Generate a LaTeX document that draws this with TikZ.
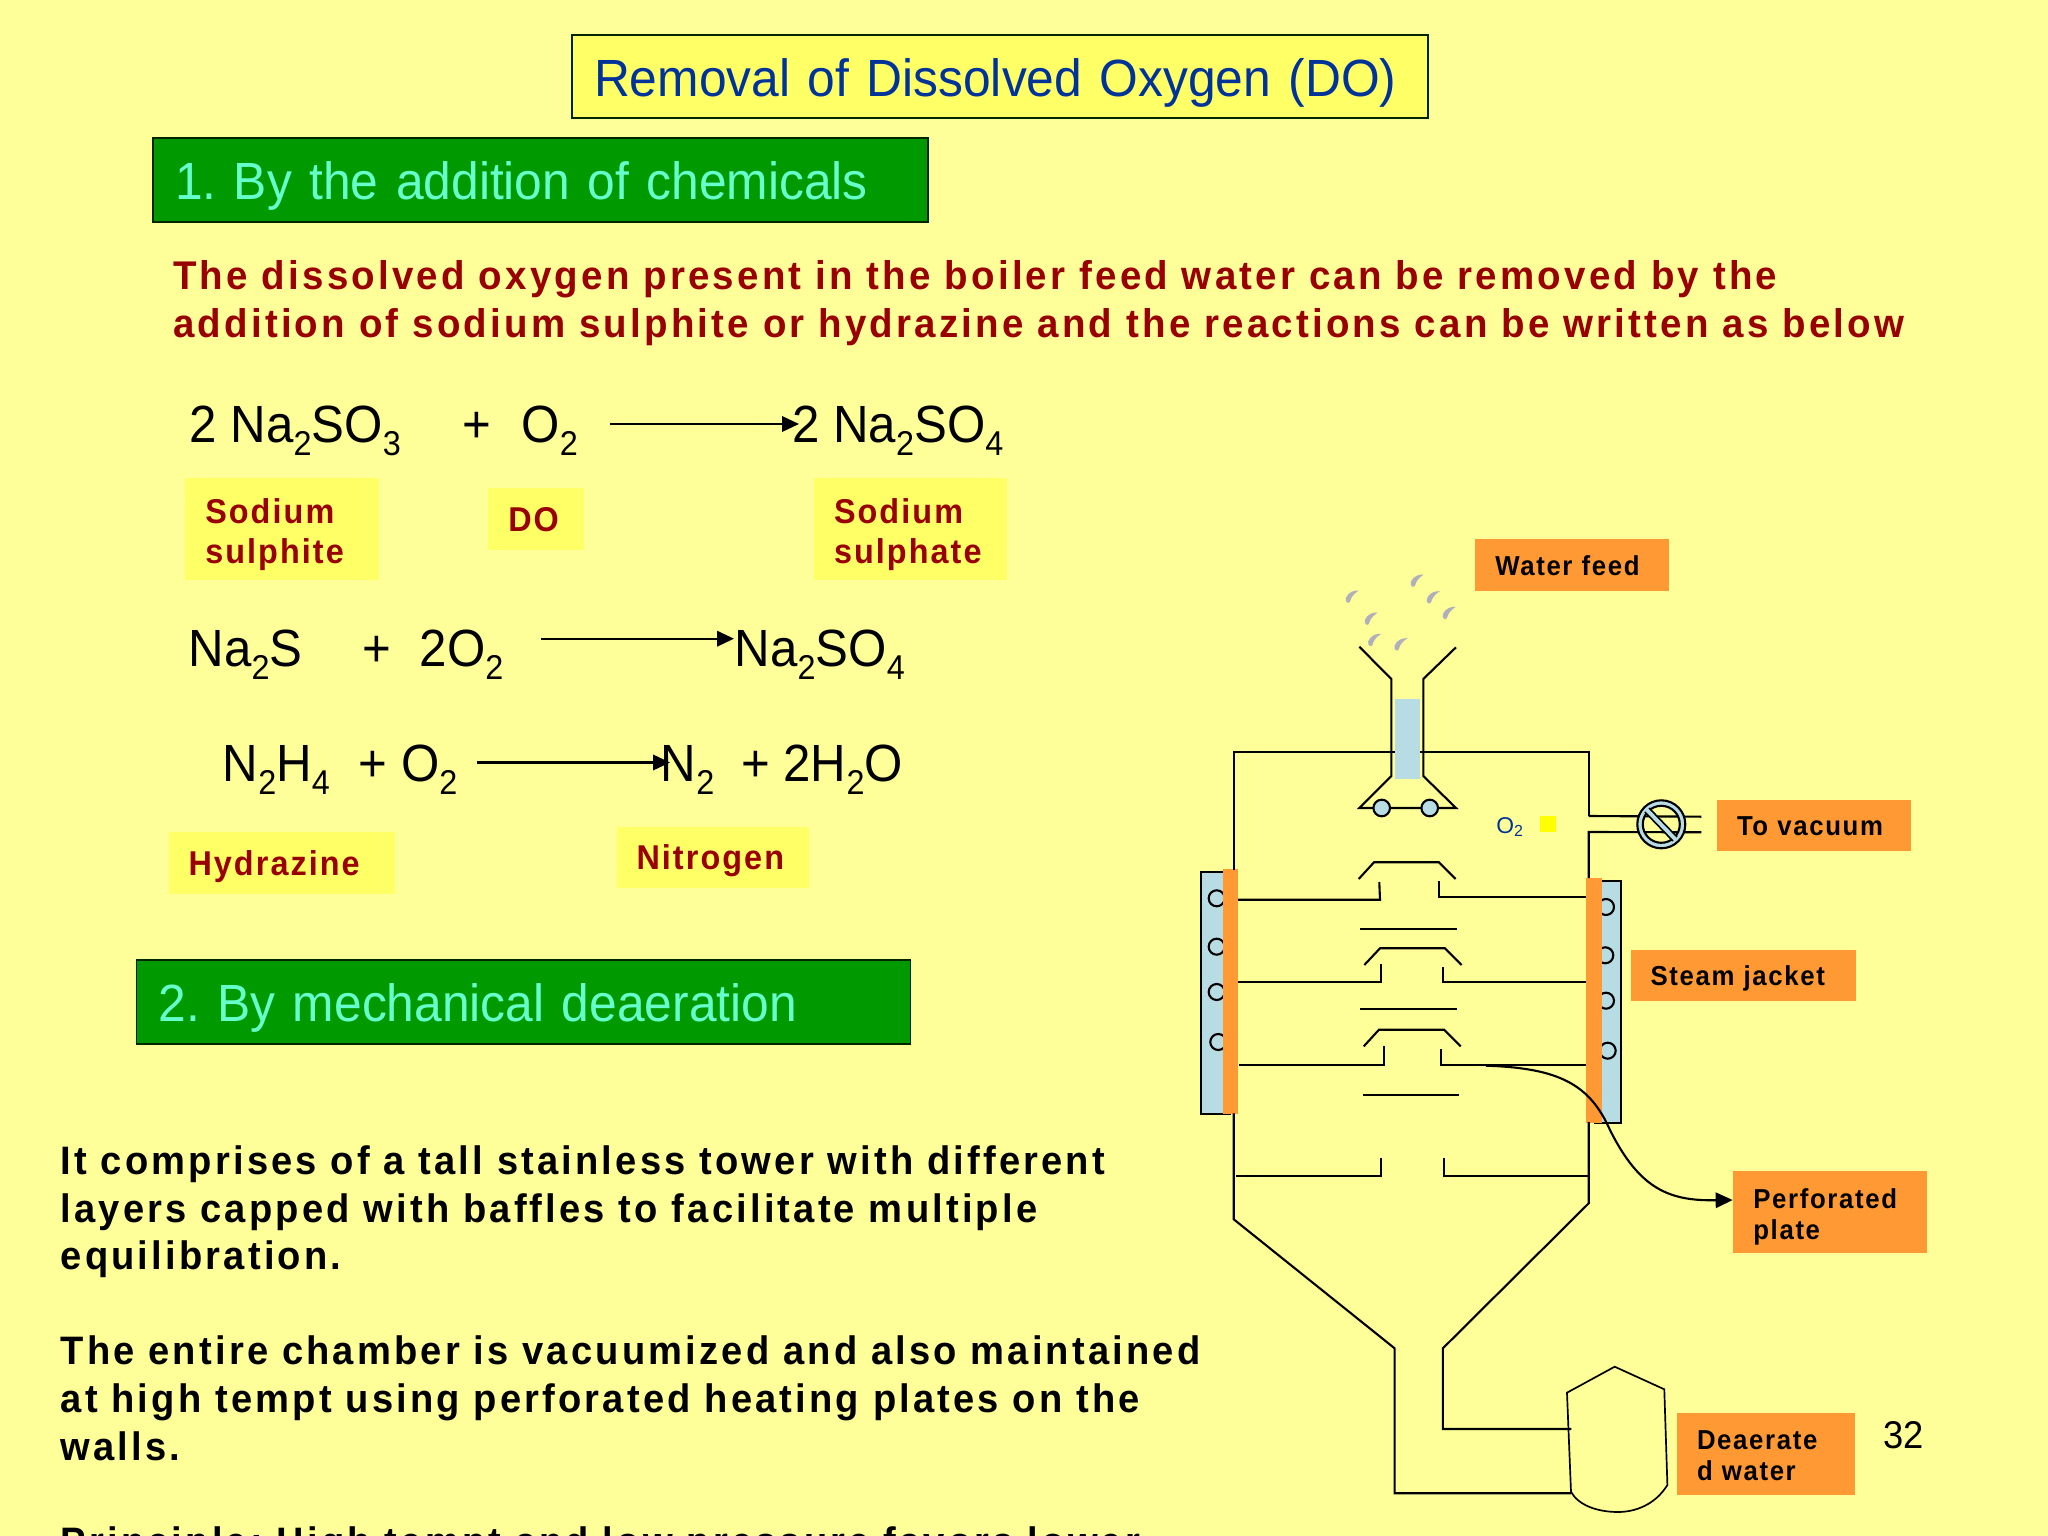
\documentclass[tikz,border=0pt]{standalone}
\usepackage{fontspec}
\setmainfont{Liberation Sans}
\newfontfamily\narrowfont[FakeStretch=.94]{Liberation Sans}
\newfontfamily\titlefont[FakeStretch=.95,WordSpace=.85]{Liberation Sans}
\newfontfamily\tagfont[FakeStretch=.94,LetterSpace=6]{Liberation Sans}
\newfontfamily\spacedfont[FakeStretch=.96,LetterSpace=8]{Liberation Sans}
\usetikzlibrary{arrows.meta}
\frenchspacing
\newcommand{\chemsub}[1]{\raisebox{-3.5pt}{\fontsize{9.8}{10}\selectfont #1}}
\definecolor{slidebg}{HTML}{FFFF99}
\definecolor{palelabel}{HTML}{FFFF66}
\definecolor{titleblue}{HTML}{003399}
\definecolor{bannergreen}{HTML}{009900}
\definecolor{bannertext}{HTML}{66FFCC}
\definecolor{darkred}{HTML}{990000}
\definecolor{tagorange}{HTML}{FF9933}
\definecolor{jacketblue}{HTML}{B8DCE4}
\definecolor{dropgrey}{HTML}{B0B0BC}
\definecolor{oxysquare}{HTML}{FFFF00}
\tikzset{
  banner/.style={draw=black!85!green,line width=.55pt,anchor=center,align=left,inner xsep=.22cm,inner ysep=0pt,text height=11.1pt,text depth=0pt,font=\titlefont\fontsize{14.9}{17}\selectfont},
  chemtext/.style={anchor=base west,inner sep=0pt,font=\narrowfont\fontsize{14.9}{17}\selectfont},
  bodytext/.style={anchor=north west,inner sep=0pt,align=left,font=\spacedfont\bfseries\fontsize{11.3}{13.54}\selectfont},
  redtag/.style={fill=palelabel,text=darkred,inner xsep=.2cm,inner ysep=0pt,align=left,text depth=-3pt,font=\tagfont\bfseries\fontsize{9.8}{11.5}\selectfont},
  redtagtwo/.style={redtag,text depth=10.4pt},
  orangetag/.style={fill=tagorange,text=black,inner xsep=.2cm,inner ysep=0pt,align=left,text depth=-1.5pt,font=\tagfont\bfseries\fontsize{7.8}{8.8}\selectfont},
  orangetagtwo/.style={orangetag,text depth=7.7pt},
  wall/.style={line width=.6pt,black},
  jacket/.style={draw=black,line width=.6pt,fill=jacketblue},
  coil/.style={draw=black,line width=.6pt,fill=jacketblue},
}
\begin{document}
\begin{tikzpicture}[x=1cm,y=-1cm,>={Triangle[length=1.7mm,width=1.55mm]},line cap=butt]
\useasboundingbox (0,0) rectangle (20.48,15.36);
\clip (0,0) rectangle (20.48,15.36);
\fill[slidebg] (0,0) rectangle (20.48,15.36);
% headings
\node[banner,fill=palelabel,text=titleblue,text width=8.12cm,minimum height=.83cm] (title) at (10,.765) {Removal of Dissolved Oxygen (DO)};
\node[banner,fill=bannergreen,text=bannertext,text width=7.31cm,minimum height=.84cm] (chembanner) at (5.405,1.8) {1. By the addition of chemicals};
\node[banner,fill=bannergreen,text=bannertext,text width=7.3cm,minimum height=.835cm] (mechbanner) at (5.235,10.02) {2. By mechanical deaeration};
\node[bodytext,text=darkred,font=\spacedfont\bfseries\fontsize{11.4}{13.54}\selectfont] (intro) at (1.725,2.6) {The dissolved oxygen present in the boiler feed water can be removed by the\\addition of sodium sulphite or hydrazine and the reactions can be written as below};
% reactions
\node[chemtext] (sulphite) at (1.89,4.43) {2 Na\chemsub{2}SO\chemsub{3}};
\node[chemtext] (plusa) at (4.62,4.43) {+};
\node[chemtext] (oxya) at (5.21,4.43) {O\chemsub{2}};
\node[chemtext] (sulphate) at (7.915,4.43) {2 Na\chemsub{2}SO\chemsub{4}};
\node[chemtext] (sulphide) at (1.88,6.67) {Na\chemsub{2}S};
\node[chemtext] (plusb) at (3.62,6.67) {+};
\node[chemtext] (oxyb) at (4.19,6.67) {2O\chemsub{2}};
\node[chemtext] (sulphateb) at (7.34,6.67) {Na\chemsub{2}SO\chemsub{4}};
\node[chemtext] (hydra) at (2.22,7.82) {N\chemsub{2}H\chemsub{4}};
\node[chemtext] (oxyc) at (3.58,7.82) {+ O\chemsub{2}};
\node[chemtext] (nitro) at (6.6,7.82) {N\chemsub{2}};
\node[chemtext] (waterc) at (7.405,7.82) {+ 2H\chemsub{2}O};
\coordinate (arrowas) at (6.1,4.24);
\coordinate (arrowae) at (7.99,4.24);
\coordinate (arrowbs) at (5.407,6.387);
\coordinate (arrowbe) at (7.34,6.387);
\coordinate (arrowcs) at (4.767,7.625);
\coordinate (arrowce) at (6.7,7.625);
\draw[->,wall] (arrowas) -- (arrowae);
\draw[->,wall] (arrowbs) -- (arrowbe);
\draw[->,wall] (arrowcs) -- (arrowce);
\node[redtagtwo,text width=1.535cm,minimum height=1.02cm] (tagsulphite) at (2.82,5.29) {Sodium\\sulphite};
\node[redtag,text width=.555cm,minimum height=.615cm] (tagdo) at (5.36,5.19) {DO};
\node[redtagtwo,text width=1.53cm,minimum height=1.02cm] (tagsulphate) at (9.105,5.29) {Sodium\\sulphate};
\node[redtag,text width=1.86cm,minimum height=.615cm] (taghydra) at (2.815,8.63) {Hydrazine};
\node[redtag,text width=1.52cm,minimum height=.61cm] (tagnitro) at (7.125,8.575) {Nitrogen};
\node[bodytext] (body) at (.6,11.45) {It comprises of a tall stainless tower with different\\layers capped with baffles to facilitate multiple\\equilibration.\\[.476cm]The entire chamber is vacuumized and also maintained\\at high tempt using perforated heating plates on the\\walls.\\[.476cm]Principle: High tempt and low pressure favors lower};
% steam jackets
\draw[jacket] (12.01,8.72) rectangle (12.3,11.14);
\draw[jacket] (15.95,8.81) rectangle (16.207,11.227);
\foreach \x/\y in {12.167/8.983,12.167/9.467,12.167/9.92,12.183/10.42,16.06/9.07,16.053/9.553,16.06/10.007,16.077/10.507}
  \draw[coil] (\x,\y) circle (.08);
\fill[tagorange] (12.23,8.693) rectangle (12.38,11.137);
\fill[tagorange] (15.86,8.78) rectangle (16.02,11.227);
% tower shell
\draw[wall] (13.95,7.517) -- (12.337,7.517) -- (12.337,8.7);
\draw[wall] (14.2,7.517) -- (15.887,7.517) -- (15.887,8.16);
\draw[wall] (12.337,11.133) -- (12.337,12.193) -- (13.946,13.483) -- (13.946,14.933) -- (15.714,14.933);
\draw[wall] (15.887,11.22) -- (15.887,12.033) -- (14.429,13.483) -- (14.429,14.29) -- (15.714,14.29);
% funnel
\fill[jacketblue] (13.953,6.987) rectangle (14.2,7.787);
\draw[wall] (13.593,6.467) -- (13.913,6.79) -- (13.913,7.76) -- (13.593,8.08) -- (14.56,8.08) -- (14.233,7.76) -- (14.233,6.79) -- (14.56,6.473);
\draw[coil] (13.817,8.08) circle (.083);
\draw[coil] (14.297,8.08) circle (.083);
\foreach \x/\y in {13.523/5.96,14.173/5.8,14.333/5.967,14.493/6.123,13.713/6.18,13.747/6.393,14.01/6.437}
  \fill[dropgrey,shift={(\x,\y)}] (.065,-.055) .. controls (.02,-.06) and (-.04,-.04) .. (-.065,.02) .. controls (-.075,.07) and (-.03,.085) .. (-.02,.05) .. controls (-.015,.02) and (.01,-.02) .. (.065,-.055) -- cycle;
\node[anchor=base west,inner sep=0pt,text=titleblue,font=\fontsize{6.5}{8}\selectfont] (oxytag) at (14.957,8.33) {O\textsubscript{2}};
\fill[oxysquare] (15.403,8.16) rectangle (15.56,8.32);
% perforated plates
\foreach \xa/\xb/\xc/\xd/\y in {13.587/13.74/14.39/14.557/8.623,13.643/13.8/14.45/14.617/9.483,13.637/13.79/14.44/14.607/10.297}
  \draw[wall] (\xa,\y+.167) -- (\xb,\y) -- (\xc,\y) -- (\xd,\y+.167);
\draw[wall] (12.38,8.997) -- (13.8,8.997) -- (13.793,8.82);
\draw[wall] (15.86,8.97) -- (14.39,8.97) -- (14.39,8.81);
\draw[wall] (12.38,9.823) -- (13.81,9.823) -- (13.81,9.643);
\draw[wall] (15.86,9.823) -- (14.433,9.823) -- (14.433,9.67);
\draw[wall] (12.387,10.65) -- (13.837,10.65) -- (13.837,10.46);
\draw[wall] (15.86,10.65) -- (14.407,10.65) -- (14.407,10.49);
\draw[wall] (13.6,9.29) -- (14.567,9.29);
\draw[wall] (13.6,10.09) -- (14.567,10.09);
\draw[wall] (13.63,10.953) -- (14.593,10.953);
\draw[wall] (12.36,11.76) -- (13.81,11.76) -- (13.81,11.583);
\draw[wall] (15.887,11.76) -- (14.437,11.76) -- (14.437,11.583);
% vacuum valve
\draw[wall] (15.887,8.16) -- (17.013,8.167);
\draw[wall] (15.887,8.78) -- (15.887,8.32) -- (17.013,8.323);
\fill[jacketblue,even odd rule] (16.613,8.243) circle (.24) (16.613,8.243) circle (.185);
\draw[wall] (16.613,8.243) circle (.24);
\draw[wall] (16.613,8.243) circle (.185);
\draw[line width=2.1pt,black] (16.47,8.1) -- (16.75,8.39);
\draw[line width=1.1pt,jacketblue] (16.46,8.09) -- (16.76,8.4);
% deaerated water tank
\draw[line width=.48pt] (15.71,14.917) -- (15.67,13.927) -- (16.147,13.667) -- (16.643,13.893) -- (16.674,14.85) .. controls (16.55,15.05) and (16.35,15.12) .. (16.179,15.12) .. controls (15.97,15.12) and (15.78,15.05) .. (15.71,14.917) -- cycle;
% tags
\node[orangetag,text width=1.534cm,minimum height=.52cm] (waterfeed) at (15.72,5.653) {Water feed};
\node[orangetag,text width=1.54cm,minimum height=.51cm] (tovacuum) at (18.14,8.26) {To vacuum};
\node[orangetag,text width=1.853cm,minimum height=.51cm] (steamjacket) at (17.433,9.755) {Steam jacket};
\node[orangetagtwo,text width=1.533cm,minimum height=.827cm] (perfplate) at (18.3,12.12) {Perforated\\plate};
\node[orangetagtwo,text width=1.38cm,minimum height=.823cm] (deaerated) at (17.66,14.54) {Deaerate\\d water};
\coordinate (platelead) at (14.86,10.657);
\draw[->,line width=.6pt] (platelead) .. controls (15.6,10.68) and (15.9,10.85) .. (16.1,11.3) .. controls (16.4,11.9) and (16.7,12.01) .. ([yshift=.12cm]perfplate.west);
\node[anchor=base west,inner sep=0pt,font=\narrowfont\fontsize{11}{13}\selectfont] (pagenum) at (18.826,14.48) {32};
\end{tikzpicture}
\end{document}
